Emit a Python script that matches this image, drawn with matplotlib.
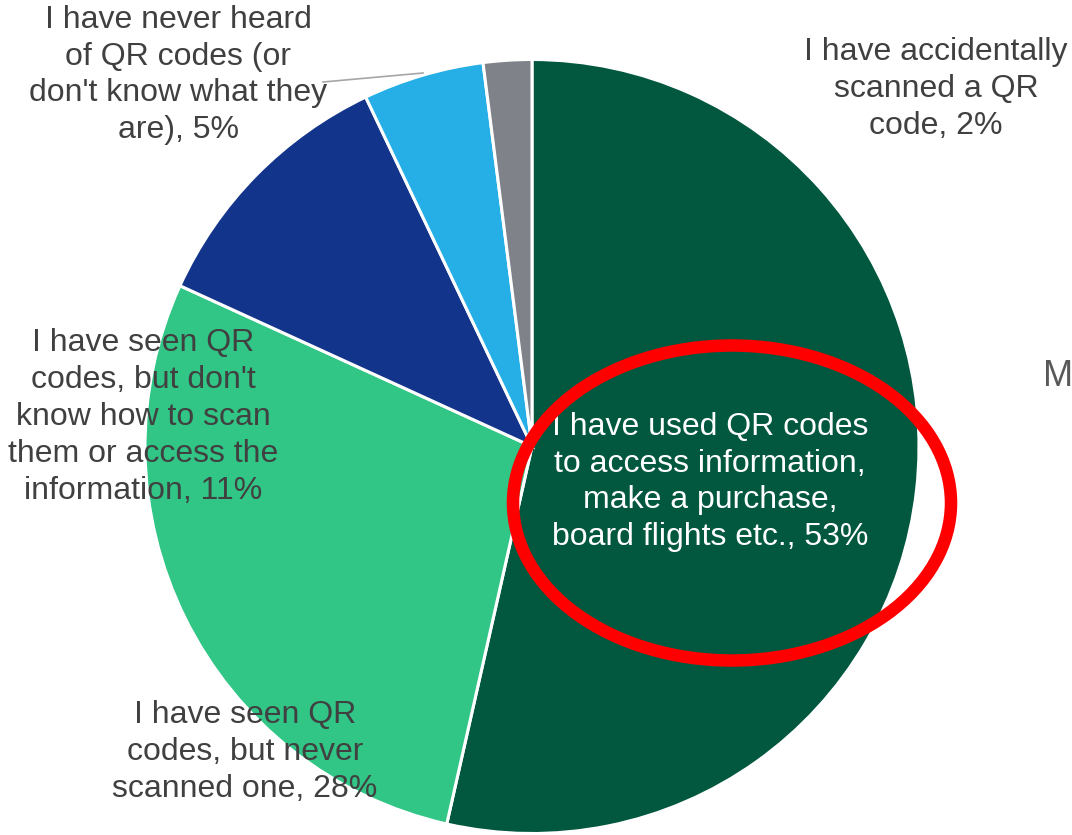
import matplotlib
matplotlib.use("Agg")
import matplotlib.pyplot as plt
from matplotlib.patches import Ellipse

plt.rcParams["font.family"] = ["Liberation Sans", "DejaVu Sans"]

# Survey answers (clockwise from 12 o'clock) and their shares in percent
categories = [
    "I have used QR codes\nto access information,\nmake a purchase,\nboard flights etc.",
    "I have seen QR\ncodes, but never\nscanned one",
    "I have seen QR\ncodes, but don't\nknow how to scan\nthem or access the\ninformation",
    "I have never heard\nof QR codes (or\ndon't know what they\nare)",
    "I have accidentally\nscanned a QR\ncode",
]
shares = [53, 28, 11, 5, 2]
colors = ["#02573F", "#31C586", "#12348B", "#25AFE6", "#7F8289"]

W, H = 1072, 835
fig = plt.figure(figsize=(W / 100, H / 100), dpi=100)
ax = fig.add_axes([0, 0, 1, 1])

cx, cy, r = 532, H - 446.5, 387
ax.pie(shares, colors=colors, startangle=90, counterclock=False,
       center=(cx, cy), radius=r,
       wedgeprops=dict(edgecolor="white", linewidth=2.2))
ax.set_xlim(0, W)
ax.set_ylim(0, H)
ax.set_aspect("equal")
ax.axis("off")

# label anchor points (pixels from top-left)
label_pos = [(710, 482), (245, 752), (143, 417), (178, 75), (936, 89)]
label_col = ["white", "#404040", "#404040", "#404040", "#404040"]
for cat, val, (x, y), col in zip(categories, shares, label_pos, label_col):
    ax.text(x, H - y, f"{cat}, {val}%", ha="center", va="center",
            fontsize=23, color=col, linespacing=1.3, zorder=5)

# leader line for the small 5% slice
ax.plot([323, 423], [H - 82, H - 73], color="#A6A6A6", lw=1.2, zorder=4)

# highlight ring around the majority answer
ax.add_patch(Ellipse((732, H - 503), 438, 315, fill=False,
                     edgecolor="#FF0000", lw=9, zorder=6))

ax.text(1043, H - 386, "M", fontsize=26, color="#595959",
        ha="left", va="baseline")

fig.savefig("out.png", dpi=100)
